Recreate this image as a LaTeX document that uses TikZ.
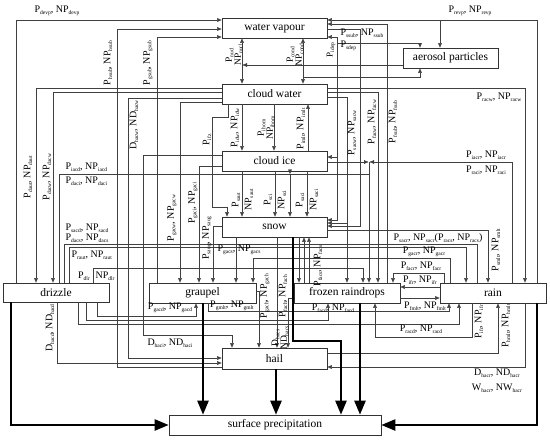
\documentclass[tikz,border=0pt]{standalone}
\usepackage{fontspec}
\setmainfont{Liberation Serif}
\usetikzlibrary{arrows.meta}
\newcommand\sbx[1]{\raisebox{-0.35ex}{\fontsize{5.5}{6}\selectfont #1}}
\newcommand\PNlab[1]{P\sbx{#1}, NP\sbx{#1}}
\newcommand\DNlab[1]{D\sbx{#1}, ND\sbx{#1}}
\begin{document}
\begin{tikzpicture}[x=1pt,y=-1pt,
  box/.style={draw=black!80, line width=0.6pt, fill=white, minimum width=105pt, minimum height=20pt, inner sep=0pt, font=\fontsize{11.5}{12}\selectfont},
  cn/.style={draw=black!75, line width=0.45pt},
  ca/.style={cn, -{Triangle[length=4.5pt,width=3.6pt]}},
  cb/.style={cn, {Triangle[length=4.5pt,width=3.6pt]}-{Triangle[length=4.5pt,width=3.6pt]}},
  thk/.style={draw=black, line width=2.3pt, -{Triangle[length=14pt,width=11pt]}},
  lab/.style={inner sep=0.3pt, font=\fontsize{10}{10}\selectfont},
  vlab/.style={lab, rotate=90},
  vlab2/.style={vlab, align=center, font=\fontsize{9.5}{9}\selectfont},
]
\useasboundingbox (0,0) rectangle (550,440);
% boxes
\node[box] (wv) at (274.5,28) {water vapour};
\node[box] (cw) at (274.5,94) {cloud water};
\node[box] (ci) at (274.5,161) {cloud ice};
\node[box] (sn) at (274.5,227) {snow};
\node[box, minimum width=95pt] (aer) at (450.5,58) {aerosol particles};
\node[box, minimum width=106pt, minimum height=19pt] (drz) at (56,292.5) {drizzle};
\node[box, minimum width=107pt] (grp) at (202.5,293) {graupel};
\node[box, minimum width=106pt] (frz) at (347,293) {frozen raindrops};
\node[box, minimum width=106pt] (rain) at (493,293) {rain};
\node[box, minimum height=21pt] (hail) at (274.5,358.5) {hail};
\node[box, minimum width=212pt] (sfc) at (275,425) {surface precipitation};
% ---- top ----
\draw[ca] (drz.north -| 16,0) -- (16,20) -- (wv.west |- 0,20);
\draw[ca] (hail.west |- 0,367) -- (117,367) -- (117,29) -- (wv.west |- 0,29);
\draw[ca] (grp.north -| 157,0) -- (157,37) -- (wv.west |- 0,37);
\draw[ca] (rain.north -| 537,0) -- (537,20) -- (wv.east |- 0,20);
\draw[ca] (440,20) -- (aer.north -| 440,0);
\draw[ca] (frz.north -| 387,0) -- (387,24) -- (wv.east |- 0,24);
\draw[ca] (wv.east |- 0,29) -- (360,29) -- (360,226) -- (sn.east |- 0,226);
\draw[cb] (wv.east |- 0,37) -- (337,37) -- (337,220) -- (sn.east |- 0,220);
\draw[ca] (337,157) -- (ci.east |- 0,157);
\draw[ca] (337,43) -- (420,43) -- (aer.north -| 420,0);
\draw[cb] (wv.south -| 242,0) -- (cw.north -| 242,0);
\draw[ca] (aer.west |- 0,65) -- (242.5,65);
\draw[cb] (wv.south -| 303,0) -- (cw.north -| 303,0);
\draw[ca] (303,77) -- (420,77) -- (aer.south -| 420,0);
% ---- cloud water left ----
\draw[ca] (cw.west |- 0,88) -- (36,88) -- (drz.north -| 36,0);
\draw[ca] (cw.west |- 0,92) -- (53,92) -- (drz.north -| 53,0);
\draw[ca] (cw.west |- 0,98) -- (128,98) -- (128,358) -- (hail.west |- 0,358);
\draw[ca] (cw.west |- 0,102) -- (180,102) -- (grp.north -| 180,0);
\draw[ca] (cw.south -| 228,0) -- (228,117) -- (212,117) -- (212,207) -- (227,207) -- (sn.north -| 227,0);
% ---- cloud water / cloud ice ----
\draw[ca] (cw.south -| 242,0) -- (ci.north -| 242,0);
\draw[ca] (cw.south -| 274,0) -- (ci.north -| 274,0);
\draw[ca] (ci.north -| 308,0) -- (cw.south -| 308,0);
% ---- cloud water right ----
\draw[ca] (cw.east |- 0,88) -- (525,88) -- (rain.north -| 525,0);
\draw[ca] (cw.east |- 0,92) -- (378,92) -- (frz.north -| 378,0);
\draw[ca] (cw.east |- 0,97) -- (347,97) -- (347,223) -- (sn.east |- 0,223);
\draw[ca] (347,223) -- (frz.north -| 347,0);
% ---- cloud ice ----
\draw[ca] (ci.west |- 0,155) -- (143,155) -- (143,335) -- (232,335) -- (hail.north -| 232,0);
\draw[ca] (ci.west |- 0,166) -- (199,166) -- (grp.north -| 199,0);
\draw[cn] (drz.north -| 59,0) -- (59,174) -- (369,174);
\draw[ca] (ci.east |- 0,162) -- (368.5,162);
\draw[ca] (rain.north -| 512,0) -- (512,162) -- (369.5,162);
\draw[ca] (369,162) -- (frz.north -| 369,0);
\draw[ca] (ci.south -| 242,0) -- (sn.north -| 242,0);
\draw[ca] (ci.south -| 275,0) -- (sn.north -| 275,0);
\draw[ca] (ci.south -| 290,0) -- (290,174);
\draw[ca] (290,174) -- (sn.north -| 290,0);
\draw[ca] (ci.south -| 307,0) -- (sn.north -| 307,0);
% ---- snow ----
\draw[ca] (sn.west |- 0,226) -- (213,226) -- (grp.north -| 213,0);
\draw[ca] (sn.south -| 236,0) -- (grp.north -| 236,0);
\draw[ca] (sn.east |- 0,230) -- (488,230) -- (rain.north -| 488,0);
\draw[ca] (sn.south -| 277,0) -- (hail.north -| 277,0);
\draw[ca] (sn.south -| 299,0) -- (frz.north -| 299,0);
\draw[ca] (frz.north -| 304,0) -- (sn.south -| 304,0);
\draw[ca] (frz.north -| 309,0) -- (sn.south -| 309,0);
\draw[cn] (drz.north -| 64,0) -- (64,244) -- (477,244) -- (rain.north -| 477,0);
\draw[ca] (drz.north -| 69,0) -- (69,247) -- (466,247) -- (rain.north -| 466,0);
\draw[ca] (rain.north -| 450,0) -- (450,258) -- (253,258) -- (grp.north -| 253,0);
\draw[ca] (rain.north -| 444,0) -- (444,273) -- (393,273) -- (frz.north -| 393,0);
\draw[ca] (drz.north -| 93,0) -- (93,268) -- (363,268) -- (frz.north -| 363,0);
% ---- to hail ----
\draw[ca] (grp.east |- 0,291) -- (259,291) -- (hail.north -| 259,0);
\draw[ca] (frz.west |- 0,298) -- (288,298) -- (hail.north -| 288,0);
% ---- bottom ----
\draw[ca] (drz.south -| 57,0) -- (57,363) -- (hail.west |- 0,363);
\draw[ca] (drz.south -| 97,0) -- (97,316) -- (196,316) -- (grp.south -| 196,0);
\draw[ca] (drz.south -| 86,0) -- (86,320) -- (328,320) -- (frz.south -| 328,0);
\draw[ca] (drz.south -| 78,0) -- (78,324) -- (459,324) -- (rain.south -| 459,0);
\draw[ca] (grp.south -| 208,0) -- (208,311) -- (449,311) -- (rain.south -| 449,0);
\draw[ca] (rain.south -| 472,0) -- (472,337) -- (375,337) -- (frz.south -| 375,0);
\draw[ca] (hail.east |- 0,353) -- (498,353) -- (rain.south -| 498,0);
\draw[ca] (rain.south -| 525,0) -- (525,367) -- (hail.east |- 0,367);
\draw[ca] (rain.west |- 0,287) -- (frz.east |- 0,287);
\draw[ca] (frz.east |- 0,298) -- (rain.west |- 0,298);
% ---- thick ----
\draw[thk] (drz.south -| 11,0) -- (11,425) -- (sfc.west);
\draw[thk] (rain.south -| 537,0) -- (537,425) -- (sfc.east);
\draw[thk] (grp.south -| 203,0) -- (sfc.north -| 203,0);
\draw[thk] (hail.south -| 276,0) -- (sfc.north -| 276,0);
\draw[thk] (sn.south -| 293,0) -- (293,341) -- (341,341) -- (sfc.north -| 341,0);
\draw[thk] (frz.south -| 360,0) -- (sfc.north -| 360,0);
% ---- labels ----
\node[lab] (l1) at (57,11) {\PNlab{devp}};
\node[lab] (l2) at (470,11) {\PNlab{revp}};
\node[vlab] (l3) at (108,63) {\PNlab{hsub}};
\node[vlab] (l4) at (148,63) {\PNlab{gsub}};
\node[vlab2] (l5) at (234,55) {P\sbx{nucl}\\NP\sbx{nucl}};
\node[vlab2] (l6) at (295,55) {P\sbx{cond}\\NP\sbx{cond}};
\node[vlab, font=\fontsize{9}{9}\selectfont] (l7) at (331,50) {P\sbx{idep}};
\node[lab, anchor=west] (l8) at (340,33) {\PNlab{ssub}};
\node[lab, anchor=west] (l9) at (340,46) {P\sbx{sdep}};
\node[vlab] (l10) at (134,125) {\DNlab{hacw}};
\node[vlab] (l11) at (28,177) {\PNlab{daut}};
\node[vlab] (l12) at (47,177) {\PNlab{dacw}};
\node[lab, anchor=west] (l13) at (65,167) {\PNlab{iacd}};
\node[lab, anchor=west] (l14) at (65,181) {\PNlab{daci}};
\node[lab, anchor=west] (l15) at (65,228) {\PNlab{sacd}};
\node[lab, anchor=west] (l16) at (65,238) {\PNlab{dacs}};
\node[lab, anchor=west] (l17) at (71,255) {\PNlab{raut}};
\node[lab] (l18) at (84,276) {P\sbx{dlr}};
\node[lab] (l19) at (105,276) {NP\sbx{dlr}};
\node[vlab] (l20) at (172,218) {\PNlab{gacw}};
\node[vlab] (l21) at (207,140) {P\sbx{ifz}};
\node[vlab] (l22) at (235,128) {\PNlab{idw}};
\node[vlab2] (l23) at (266,128) {P\sbx{ihom}\\NP\sbx{ihom}};
\node[vlab] (l24) at (301,129) {\PNlab{imlt}};
\node[vlab] (l25) at (352,133) {\PNlab{sacw}};
\node[vlab] (l26) at (372,122) {\PNlab{facw}};
\node[vlab] (l27) at (393,122) {\PNlab{fsub}};
\node[lab] (l28) at (499,97) {\PNlab{racw}};
\node[lab] (l29) at (486,155) {\PNlab{iacr}};
\node[lab] (l30) at (486,170) {\PNlab{raci}};
\node[vlab] (l31) at (193,203) {\PNlab{gaci}};
\node[vlab] (l32) at (207,238) {\PNlab{saug}};
\node[vlab] (l33) at (236,200) {P\sbx{saut}};
\node[vlab] (l34) at (249,200) {NP\sbx{saut}};
\node[vlab] (l35) at (268,200) {P\sbx{sci}};
\node[vlab] (l36) at (282,200) {NP\sbx{sci}};
\node[vlab] (l37) at (300,200) {P\sbx{saci}};
\node[vlab] (l38) at (314,200) {NP\sbx{saci}};
\node[vlab] (l58) at (318,266) {\PNlab{facs}};
\node[lab, anchor=west] (l39) at (217,250) {\PNlab{gacs}};
\node[lab] (l40) at (438,238) {\PNlab{sacr}(\PNlab{racs})};
\node[lab] (l41) at (424,252) {\PNlab{gacr}};
\node[lab] (l42) at (421,266) {\PNlab{facr}};
\node[vlab] (l43) at (496,250) {\PNlab{smlt}};
\node[lab] (l44) at (420,280) {\PNlab{ifr}};
\node[vlab] (l45) at (50,328) {\DNlab{hacd}};
\node[lab] (l46) at (170,308) {\PNlab{gacd}};
\node[lab] (l47) at (232,306) {\PNlab{gmlt}};
\node[lab] (l48) at (333,308) {\PNlab{facd}};
\node[lab] (l49) at (425,306) {\PNlab{fmlt}};
\node[lab] (l50) at (421,329) {\PNlab{racd}};
\node[vlab] (l51) at (479,322) {\PNlab{ifr}};
\node[vlab] (l52) at (506,326) {\PNlab{hmlt}};
\node[lab] (l53) at (170,343) {\DNlab{haci}};
\node[lab] (l54) at (497,373) {\DNlab{hacr}};
\node[lab] (l55) at (497,388) {W\sbx{hacr}, NW\sbx{hacr}};
\node[vlab] (l56) at (265,296) {\PNlab{gach}};
\node[vlab] (l57) at (283,296) {\PNlab{fach}};
\node[vlab2] (l59) at (280,338) {D\sbx{hacs}\\ND\sbx{hacs}};
\end{tikzpicture}
\end{document}
